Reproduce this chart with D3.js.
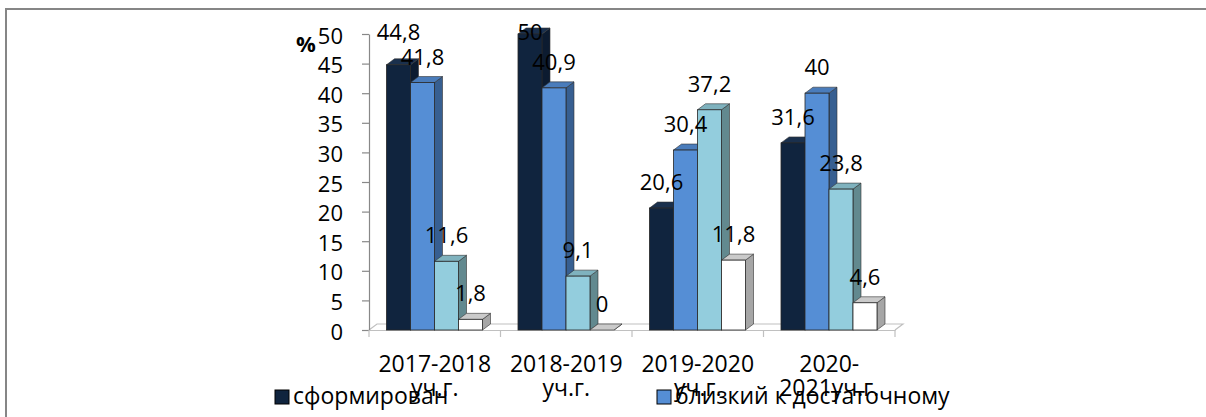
<!DOCTYPE html>
<html>
<head>
<meta charset="utf-8">
<script src="https://cdn.jsdelivr.net/npm/d3@7"></script>
<style>
  body { margin: 0; background: #fff; }
  svg { display: block; font-family: "Open Sans", sans-serif; }
</style>
</head>
<body>
<svg width="1206" height="417"></svg>
<script>
// categories (wrapped in two lines like the original)
var categories = ["2017-2018 уч.г.", "2018-2019 уч.г.", "2019-2020 уч.г.", "2020-2021уч.г."];
var catLines = [["2017-2018", "уч.г."], ["2018-2019", "уч.г."], ["2019-2020", "уч.г."], ["2020-", "2021уч.г."]];
var seriesNames = ["сформирован", "близкий к достаточному", "серия 3", "серия 4"];
var s1 = [44.8, 50, 20.6, 31.6];
var s2 = [41.8, 40.9, 30.4, 40];
var s3 = [11.6, 9.1, 37.2, 23.8];
var s4 = [1.8, 0, 11.8, 4.6];
var yTicks = [0, 5, 10, 15, 20, 25, 30, 35, 40, 45, 50];

var series = [s1, s2, s3, s4];
var front = ["#10243e", "#558ed5", "#93cddd", "#ffffff"];
var side = ["#0c1b30", "#375f91", "#62898f", "#a6a6a6"];
var top_ = ["#1a304d", "#4a7cbb", "#7fb2be", "#cacaca"];
var dx = 8, dy = 6;

var svg = d3.select("svg");

// outer frame
svg.append("rect")
  .attr("x", 6).attr("y", 9).attr("width", 1220).attr("height", 430)
  .attr("fill", "none").attr("stroke", "#868686").attr("stroke-width", 2);

var x = d3.scaleBand().domain(categories).range([369, 895]).padding(0);
var xs = d3.scaleBand().domain(d3.range(4)).range([17.5, 113.5]).padding(0);
var y = d3.scaleLinear().domain([0, 50]).range([330, 34]);

// floor
var y0 = y(0);
svg.append("path")
  .attr("d", "M" + x.range()[0] + "," + y0 + "L" + (x.range()[0] + dx) + "," + (y0 - dy) +
    "L" + (x.range()[1] + dx) + "," + (y0 - dy) + "L" + x.range()[1] + "," + y0)
  .attr("fill", "none").attr("stroke", "#c0c0c0").attr("stroke-width", 1.2);

// y axis
var gy = svg.append("g")
  .attr("transform", "translate(369,0)")
  .call(d3.axisLeft(y).tickValues(yTicks).tickSize(7).tickPadding(19).tickSizeOuter(0));
gy.select(".domain").attr("stroke", "#888").attr("stroke-width", 1.2);
gy.selectAll(".tick line").attr("stroke", "#888").attr("stroke-width", 1.2);
gy.selectAll(".tick text")
  .attr("font-size", 22).attr("font-family", "Open Sans").attr("fill", "#000")
  .attr("dy", 9);

svg.append("text")
  .attr("x", 296).attr("y", 52)
  .attr("font-size", 22).attr("font-weight", "bold").text("%");

// x axis
var gx = svg.append("g")
  .attr("transform", "translate(0," + y0 + ")")
  .call(d3.axisBottom(x).tickSize(0).tickFormat(""));
gx.select(".domain").attr("stroke", "#c0c0c0").attr("stroke-width", 1.2);
svg.selectAll(".cattick")
  .data(d3.range(categories.length + 1))
  .enter().append("line")
  .attr("x1", function (i) { return i < categories.length ? x(categories[i]) : x.range()[1]; })
  .attr("x2", function (i) { return i < categories.length ? x(categories[i]) : x.range()[1]; })
  .attr("y1", y0).attr("y2", y0 + 7)
  .attr("stroke", "#c0c0c0").attr("stroke-width", 1.2);

// bars
var bars = [];
categories.forEach(function (c, ci) {
  series.forEach(function (s, si) {
    bars.push({ c: c, si: si, v: s[ci] });
  });
});

var g = svg.selectAll(".bar").data(bars).enter().append("g").attr("class", "bar");
g.each(function (d) {
  var el = d3.select(this);
  var x0 = x(d.c) + xs(d.si), w = xs.bandwidth(), yt = y(d.v);
  el.append("path")
    .attr("d", "M" + (x0 + w) + "," + yt + "L" + (x0 + w + dx) + "," + (yt - dy) +
      "L" + (x0 + w + dx) + "," + (y0 - dy) + "L" + (x0 + w) + "," + y0 + "Z")
    .attr("fill", side[d.si]).attr("stroke", "#333").attr("stroke-width", 0.6);
  el.append("path")
    .attr("d", "M" + x0 + "," + yt + "L" + (x0 + dx) + "," + (yt - dy) +
      "L" + (x0 + w + dx) + "," + (yt - dy) + "L" + (x0 + w) + "," + yt + "Z")
    .attr("fill", top_[d.si]).attr("stroke", "#333").attr("stroke-width", 0.6);
  el.append("rect")
    .attr("x", x0).attr("y", yt).attr("width", w).attr("height", y0 - yt)
    .attr("fill", front[d.si]).attr("stroke", "#262626").attr("stroke-width", 0.8);
});

// value labels
svg.selectAll(".lbl").data(bars).enter().append("text")
  .attr("x", function (d) { return x(d.c) + xs(d.si) + xs.bandwidth() / 2; })
  .attr("y", function (d) { var b = y(d.v) - 18; return b < 48 ? 40 : b; })
  .attr("text-anchor", "middle").attr("font-size", 22).attr("fill", "#000")
  .text(function (d) { return String(d.v).replace(".", ","); });

// category labels
catLines.forEach(function (lines, i) {
  var t = svg.append("text")
    .attr("x", x(categories[i]) + x.bandwidth() / 2)
    .attr("y", 372).attr("text-anchor", "middle").attr("font-size", 23).attr("fill", "#000");
  lines.forEach(function (l, j) {
    t.append("tspan").attr("x", x(categories[i]) + x.bandwidth() / 2)
      .attr("dy", j === 0 ? 0 : 24).text(l);
  });
});

// legend (only first row visible)
var legX = [275, 657];
[0, 1].forEach(function (si) {
  svg.append("rect")
    .attr("x", legX[si]).attr("y", 390).attr("width", 14).attr("height", 14)
    .attr("fill", front[si]).attr("stroke", "#000").attr("stroke-width", 1);
  svg.append("text")
    .attr("x", legX[si] + 18).attr("y", 404)
    .attr("font-size", 23).attr("fill", "#000").text(seriesNames[si]);
});
</script>
</body>
</html>
